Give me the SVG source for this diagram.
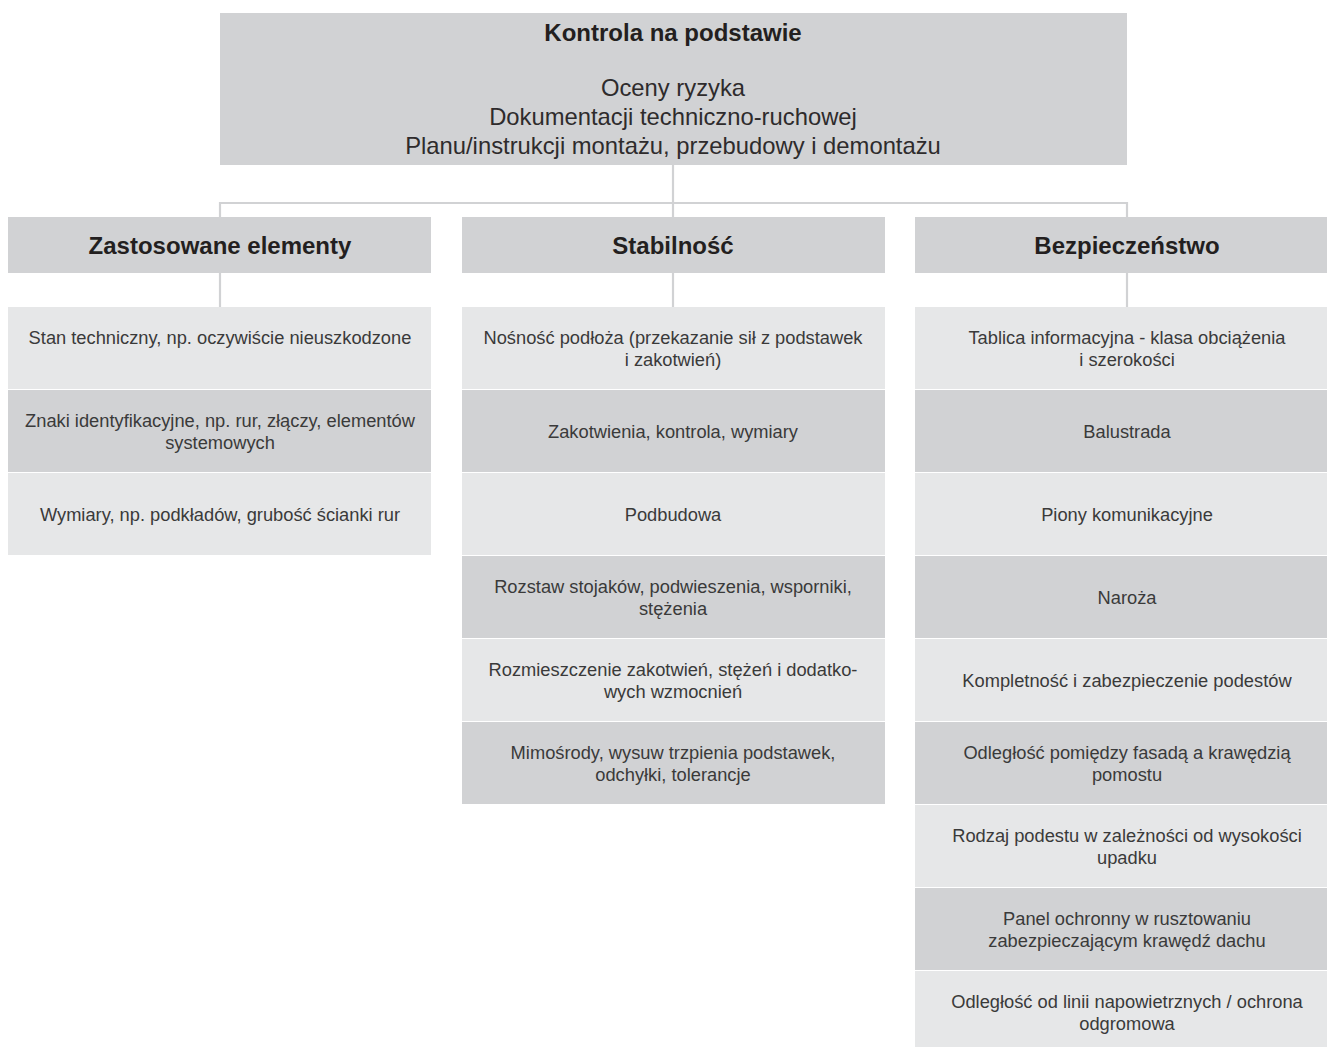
<svg xmlns="http://www.w3.org/2000/svg" width="1327" height="1047" viewBox="0 0 1327 1047">
<style>
.dark{fill:#d1d2d4}
.light{fill:#e6e7e8}
.conn{stroke:#d1d2d4;stroke-width:2.2;fill:none}
text{font-family:"Liberation Sans",Arial,sans-serif;text-anchor:middle}
.title{font-size:24px;font-weight:bold;fill:#231f20}
.sub{font-size:23.8px;fill:#2e2b2c}
.hdr{font-size:24px;font-weight:bold;fill:#231f20}
.item{font-size:18.3px;fill:#3a3a3a}
</style>
<rect width="1327" height="1047" fill="#ffffff"/>
<g id="connectors">
<path class="conn" d="M673,165V203M220,218V203H1127V218M673,203V218"/>
<path class="conn" d="M220,273V307M673,273V307M1127,273V307"/>
</g>
<g id="root">
<rect class="dark" x="220" y="13" width="907" height="152"/>
<text class="title" x="673" y="41">Kontrola na podstawie</text>
<text class="sub" x="673" y="96">Oceny ryzyka</text>
<text class="sub" x="673" y="125">Dokumentacji techniczno-ruchowej</text>
<text class="sub" x="673" y="154">Planu/instrukcji montażu, przebudowy i demontażu</text>
</g>
<g id="h1"><rect class="dark" x="8" y="217" width="423" height="56"/><text class="hdr" x="220" y="254">Zastosowane elementy</text></g>
<g id="h2"><rect class="dark" x="462" y="217" width="423" height="56"/><text class="hdr" x="673" y="254">Stabilność</text></g>
<g id="h3"><rect class="dark" x="915" y="217" width="424" height="56"/><text class="hdr" x="1127" y="254">Bezpieczeństwo</text></g>

<g id="c1r1"><rect class="light" x="8" y="307" width="423" height="82"/><text class="item" x="220" y="344">Stan techniczny, np. oczywiście nieuszkodzone</text></g>
<g id="c1r2"><rect class="dark" x="8" y="390" width="423" height="82"/><text class="item" x="220" y="427">Znaki identyfikacyjne, np. rur, złączy, elementów</text><text class="item" x="220" y="449">systemowych</text></g>
<g id="c1r3"><rect class="light" x="8" y="473" width="423" height="82"/><text class="item" x="220" y="521">Wymiary, np. podkładów, grubość ścianki rur</text></g>

<g id="c2r1"><rect class="light" x="462" y="307" width="423" height="82"/><text class="item" x="673" y="344">Nośność podłoża (przekazanie sił z podstawek</text><text class="item" x="673" y="366">i zakotwień)</text></g>
<g id="c2r2"><rect class="dark" x="462" y="390" width="423" height="82"/><text class="item" x="673" y="438">Zakotwienia, kontrola, wymiary</text></g>
<g id="c2r3"><rect class="light" x="462" y="473" width="423" height="82"/><text class="item" x="673" y="521">Podbudowa</text></g>
<g id="c2r4"><rect class="dark" x="462" y="556" width="423" height="82"/><text class="item" x="673" y="593">Rozstaw stojaków, podwieszenia, wsporniki,</text><text class="item" x="673" y="615">stężenia</text></g>
<g id="c2r5"><rect class="light" x="462" y="639" width="423" height="82"/><text class="item" x="673" y="676">Rozmieszczenie zakotwień, stężeń i dodatko-</text><text class="item" x="673" y="698">wych wzmocnień</text></g>
<g id="c2r6"><rect class="dark" x="462" y="722" width="423" height="82"/><text class="item" x="673" y="759">Mimośrody, wysuw trzpienia podstawek,</text><text class="item" x="673" y="781">odchyłki, tolerancje</text></g>

<g id="c3r1"><rect class="light" x="915" y="307" width="424" height="82"/><text class="item" x="1127" y="344">Tablica informacyjna - klasa obciążenia</text><text class="item" x="1127" y="366">i szerokości</text></g>
<g id="c3r2"><rect class="dark" x="915" y="390" width="424" height="82"/><text class="item" x="1127" y="438">Balustrada</text></g>
<g id="c3r3"><rect class="light" x="915" y="473" width="424" height="82"/><text class="item" x="1127" y="521">Piony komunikacyjne</text></g>
<g id="c3r4"><rect class="dark" x="915" y="556" width="424" height="82"/><text class="item" x="1127" y="604">Naroża</text></g>
<g id="c3r5"><rect class="light" x="915" y="639" width="424" height="82"/><text class="item" x="1127" y="687">Kompletność i zabezpieczenie podestów</text></g>
<g id="c3r6"><rect class="dark" x="915" y="722" width="424" height="82"/><text class="item" x="1127" y="759">Odległość pomiędzy fasadą a krawędzią</text><text class="item" x="1127" y="781">pomostu</text></g>
<g id="c3r7"><rect class="light" x="915" y="805" width="424" height="82"/><text class="item" x="1127" y="842">Rodzaj podestu w zależności od wysokości</text><text class="item" x="1127" y="864">upadku</text></g>
<g id="c3r8"><rect class="dark" x="915" y="888" width="424" height="82"/><text class="item" x="1127" y="925">Panel ochronny w rusztowaniu</text><text class="item" x="1127" y="947">zabezpieczającym krawędź dachu</text></g>
<g id="c3r9"><rect class="light" x="915" y="971" width="424" height="82"/><text class="item" x="1127" y="1008">Odległość od linii napowietrznych / ochrona</text><text class="item" x="1127" y="1030">odgromowa</text></g>
</svg>
